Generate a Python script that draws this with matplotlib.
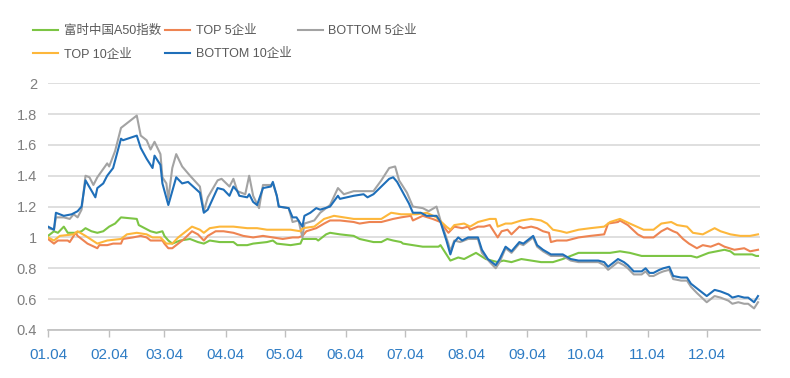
import pandas as pd
import numpy as np
import matplotlib.pyplot as plt

start = pd.Timestamp("2021-01-04")

# days after 2021-01-04, value (normalised, start = 1)
a50_days = [0, 3, 5, 8, 10, 14, 17, 19, 22, 25, 28, 31, 34, 37, 45, 46, 49, 52, 55, 58, 59, 61, 63, 67, 72, 76, 79, 82, 87, 94, 96, 101, 104, 111, 114, 116, 123, 128, 129, 136, 137, 141, 143, 148, 155, 158, 165, 169, 172, 175, 179, 180, 185, 190, 198, 199, 202, 204, 208, 211, 217, 222, 228, 231, 235, 240, 245, 250, 256, 261, 265, 269, 275, 282, 285, 290, 295, 301, 309, 317, 326, 329, 335, 339, 343, 346, 348, 353, 357, 359, 360]
a50_vals = [1.01, 1.04, 1.03, 1.07, 1.03, 1.03, 1.04, 1.06, 1.04, 1.03, 1.04, 1.07, 1.09, 1.13, 1.12, 1.08, 1.06, 1.04, 1.03, 1.04, 1.01, 0.98, 0.96, 0.98, 0.99, 0.97, 0.96, 0.98, 0.97, 0.97, 0.95, 0.95, 0.96, 0.97, 0.98, 0.96, 0.95, 0.96, 0.99, 0.99, 0.98, 1.02, 1.03, 1.02, 1.01, 0.99, 0.97, 0.97, 0.99, 0.98, 0.97, 0.96, 0.95, 0.94, 0.94, 0.95, 0.89, 0.85, 0.87, 0.86, 0.90, 0.86, 0.84, 0.85, 0.84, 0.86, 0.85, 0.84, 0.84, 0.86, 0.88, 0.90, 0.90, 0.90, 0.90, 0.91, 0.90, 0.88, 0.88, 0.88, 0.88, 0.87, 0.90, 0.91, 0.92, 0.91, 0.89, 0.89, 0.89, 0.88, 0.88]

top5_days = [0, 3, 5, 10, 11, 14, 15, 18, 20, 25, 26, 30, 33, 37, 38, 43, 47, 50, 52, 55, 58, 59, 61, 63, 66, 69, 73, 76, 79, 81, 85, 89, 94, 99, 104, 109, 114, 119, 124, 127, 129, 131, 136, 140, 143, 148, 155, 158, 163, 169, 172, 175, 179, 184, 185, 190, 195, 199, 203, 206, 210, 213, 214, 218, 221, 224, 228, 230, 233, 235, 239, 241, 245, 248, 251, 254, 255, 258, 263, 269, 275, 282, 284, 289, 290, 294, 299, 302, 307, 311, 314, 317, 319, 322, 325, 329, 332, 336, 340, 343, 348, 353, 356, 360]
top5_vals = [0.99, 0.96, 0.98, 0.98, 0.97, 1.03, 1.01, 0.98, 0.96, 0.93, 0.95, 0.95, 0.96, 0.96, 0.99, 1.00, 1.01, 1.00, 0.98, 0.98, 0.98, 0.96, 0.93, 0.93, 0.96, 0.99, 1.04, 1.02, 0.98, 1.01, 1.04, 1.04, 1.03, 1.01, 1.00, 1.01, 1.00, 0.99, 1.00, 1.00, 1.01, 1.04, 1.06, 1.09, 1.11, 1.11, 1.10, 1.09, 1.10, 1.10, 1.11, 1.12, 1.13, 1.14, 1.11, 1.14, 1.12, 1.10, 1.03, 1.07, 1.06, 1.07, 1.05, 1.07, 1.07, 1.08, 1.00, 1.04, 1.05, 1.02, 1.07, 1.06, 1.07, 1.06, 1.04, 1.03, 0.97, 0.98, 0.98, 1.00, 1.01, 1.02, 1.09, 1.10, 1.11, 1.08, 1.02, 1.00, 1.00, 1.04, 1.06, 1.04, 1.03, 0.99, 0.96, 0.93, 0.95, 0.94, 0.96, 0.94, 0.92, 0.93, 0.91, 0.92]

bot5_days = [0, 3, 4, 8, 11, 13, 15, 17, 19, 21, 23, 25, 30, 31, 34, 37, 45, 47, 50, 52, 54, 57, 58, 60, 61, 63, 65, 68, 72, 77, 79, 81, 86, 88, 92, 94, 96, 100, 102, 104, 107, 109, 113, 114, 116, 117, 122, 124, 127, 129, 130, 135, 138, 143, 147, 150, 155, 160, 165, 169, 173, 176, 178, 182, 185, 190, 193, 197, 199, 203, 204, 206, 209, 213, 218, 220, 224, 227, 229, 232, 235, 239, 241, 246, 248, 251, 255, 258, 261, 265, 269, 272, 279, 282, 284, 286, 289, 292, 294, 297, 301, 303, 305, 307, 310, 312, 315, 317, 321, 324, 326, 329, 334, 338, 341, 345, 347, 350, 353, 355, 358, 360]
bot5_vals = [1.06, 1.05, 1.13, 1.13, 1.12, 1.15, 1.13, 1.18, 1.40, 1.39, 1.34, 1.39, 1.48, 1.46, 1.56, 1.71, 1.79, 1.66, 1.63, 1.57, 1.62, 1.54, 1.39, 1.35, 1.25, 1.45, 1.54, 1.46, 1.40, 1.33, 1.17, 1.26, 1.37, 1.38, 1.33, 1.38, 1.30, 1.28, 1.40, 1.27, 1.19, 1.34, 1.34, 1.35, 1.27, 1.20, 1.19, 1.10, 1.11, 1.00, 1.09, 1.11, 1.16, 1.21, 1.32, 1.28, 1.30, 1.30, 1.30, 1.37, 1.45, 1.46, 1.37, 1.29, 1.20, 1.19, 1.17, 1.20, 1.11, 0.96, 0.91, 0.98, 0.97, 0.99, 0.99, 0.90, 0.84, 0.80, 0.84, 0.93, 0.90, 0.96, 0.95, 1.00, 0.94, 0.91, 0.88, 0.88, 0.88, 0.85, 0.84, 0.84, 0.84, 0.82, 0.79, 0.81, 0.84, 0.82, 0.80, 0.76, 0.76, 0.78, 0.75, 0.75, 0.77, 0.78, 0.79, 0.73, 0.72, 0.72, 0.68, 0.64, 0.58, 0.62, 0.61, 0.59, 0.57, 0.58, 0.57, 0.57, 0.54, 0.58]

top10_days = [0, 3, 6, 13, 15, 19, 25, 30, 37, 40, 45, 50, 53, 57, 60, 63, 66, 69, 73, 77, 79, 82, 87, 94, 101, 106, 111, 118, 123, 128, 129, 135, 140, 145, 150, 155, 162, 169, 174, 179, 187, 192, 197, 202, 204, 206, 211, 214, 218, 224, 227, 228, 232, 235, 240, 245, 250, 253, 256, 260, 263, 269, 275, 282, 285, 290, 295, 302, 307, 311, 316, 319, 324, 327, 332, 338, 341, 346, 351, 356, 360]
top10_vals = [1.00, 0.98, 1.01, 1.02, 1.04, 1.01, 0.96, 0.98, 0.99, 1.02, 1.03, 1.02, 1.00, 1.00, 0.96, 0.96, 1.00, 1.03, 1.07, 1.05, 1.03, 1.06, 1.07, 1.07, 1.06, 1.06, 1.05, 1.05, 1.05, 1.04, 1.06, 1.07, 1.12, 1.14, 1.13, 1.12, 1.12, 1.12, 1.16, 1.15, 1.15, 1.16, 1.13, 1.07, 1.05, 1.08, 1.09, 1.07, 1.10, 1.12, 1.12, 1.07, 1.09, 1.09, 1.11, 1.12, 1.11, 1.09, 1.05, 1.04, 1.03, 1.05, 1.06, 1.07, 1.10, 1.12, 1.09, 1.05, 1.05, 1.09, 1.10, 1.08, 1.07, 1.03, 1.02, 1.06, 1.04, 1.02, 1.01, 1.01, 1.02]

bot10_days = [0, 3, 4, 8, 12, 15, 17, 19, 24, 25, 28, 30, 33, 37, 38, 45, 47, 50, 53, 54, 57, 58, 61, 65, 68, 71, 77, 79, 81, 86, 89, 92, 94, 96, 97, 101, 102, 104, 106, 109, 113, 114, 116, 117, 122, 124, 126, 129, 130, 133, 136, 138, 143, 147, 148, 155, 160, 162, 165, 169, 173, 175, 177, 180, 183, 185, 189, 192, 197, 199, 202, 204, 206, 208, 210, 213, 215, 218, 220, 223, 227, 229, 232, 235, 239, 241, 246, 248, 251, 255, 258, 261, 265, 269, 272, 279, 282, 284, 286, 289, 292, 294, 297, 301, 303, 305, 307, 310, 312, 315, 317, 321, 324, 326, 329, 334, 338, 341, 345, 347, 350, 353, 355, 358, 360]
bot10_vals = [1.07, 1.05, 1.16, 1.14, 1.15, 1.17, 1.20, 1.37, 1.26, 1.32, 1.35, 1.40, 1.45, 1.64, 1.63, 1.66, 1.58, 1.51, 1.45, 1.53, 1.47, 1.35, 1.21, 1.39, 1.35, 1.36, 1.29, 1.16, 1.18, 1.32, 1.31, 1.27, 1.33, 1.30, 1.27, 1.26, 1.28, 1.23, 1.21, 1.32, 1.33, 1.36, 1.27, 1.20, 1.19, 1.13, 1.13, 1.07, 1.14, 1.16, 1.19, 1.18, 1.20, 1.27, 1.25, 1.27, 1.28, 1.26, 1.28, 1.33, 1.38, 1.39, 1.36, 1.29, 1.22, 1.16, 1.16, 1.14, 1.14, 1.10, 0.98, 0.89, 0.97, 1.00, 0.98, 1.00, 1.00, 1.00, 0.92, 0.86, 0.82, 0.86, 0.94, 0.91, 0.97, 0.96, 1.01, 0.95, 0.92, 0.89, 0.89, 0.89, 0.86, 0.85, 0.85, 0.85, 0.84, 0.81, 0.83, 0.86, 0.84, 0.82, 0.78, 0.78, 0.80, 0.77, 0.77, 0.79, 0.80, 0.81, 0.75, 0.74, 0.74, 0.70, 0.67, 0.62, 0.66, 0.65, 0.63, 0.61, 0.62, 0.61, 0.61, 0.58, 0.62]

tick_labels = ["01.04", "02.04", "03.04", "04.04", "05.04", "06.04",
               "07.04", "08.04", "09.04", "10.04", "11.04", "12.04"]

series = [
    ("富时中国A50指数", a50_days, a50_vals, "#7cc544"),
    ("TOP 5企业", top5_days, top5_vals, "#ee8452"),
    ("BOTTOM 5企业", bot5_days, bot5_vals, "#a3a3a3"),
    ("TOP 10企业", top10_days, top10_vals, "#fdb73b"),
    ("BOTTOM 10企业", bot10_days, bot10_vals, "#1f6fb9"),
]

fig = plt.figure(figsize=(7.9, 3.78), dpi=100)
ax = fig.add_axes([0.0608, 0.127, 0.9012, 0.653])

lines = {}
for name, days, vals, color in series:
    dates = start + pd.to_timedelta(days, unit="D")
    ln, = ax.plot(dates, vals, color=color, lw=1.5, label=name)
    lines[name] = ln

ax.set_ylim(0.4, 2.0)
ax.set_xlim(start, start + pd.Timedelta(days=361))
ax.set_yticks(np.arange(0.4, 2.01, 0.2))
ax.set_yticklabels(["0.4", "0.6", "0.8", "1", "1.2", "1.4", "1.6", "1.8", "2"])
ax.grid(axis="y", color="#d9d9d9", lw=1.2)
ax.set_axisbelow(True)

ticks = [pd.Timestamp(2021, m, 4) for m in range(1, 13)]
ax.set_xticks(ticks)
ax.set_xticklabels(tick_labels)

for s in ["top", "right", "left"]:
    ax.spines[s].set_visible(False)
ax.spines["bottom"].set_color("#bfbfbf")
ax.spines["bottom"].set_linewidth(1.2)

ax.tick_params(axis="y", length=0, pad=8, labelsize=10.5, labelcolor="#7f7f7f",
               labelfontfamily="Liberation Sans")
ax.tick_params(axis="x", length=5, color="#bfbfbf", width=1, pad=8,
               labelsize=11, labelcolor="#2e7cc4", labelfontfamily="Liberation Sans")

# legend: three columns placed at fixed positions like the original
leg_cols = [["富时中国A50指数", "TOP 10企业"], ["TOP 5企业", "BOTTOM 10企业"], ["BOTTOM 5企业"]]
leg_x = [0.042, 0.209, 0.377]
for names, x in zip(leg_cols, leg_x):
    leg = fig.legend([lines[n] for n in names], names, frameon=False,
                     loc="upper left", bbox_to_anchor=(x, 0.934), borderpad=0,
                     borderaxespad=0, handlelength=2.0, handletextpad=0.45,
                     labelspacing=0.92,
                     prop={"family": ["Liberation Sans", "Noto Sans CJK SC"], "size": 9})
    for t in leg.get_texts():
        t.set_color("#595959")

fig.savefig("out.png", dpi=100)
